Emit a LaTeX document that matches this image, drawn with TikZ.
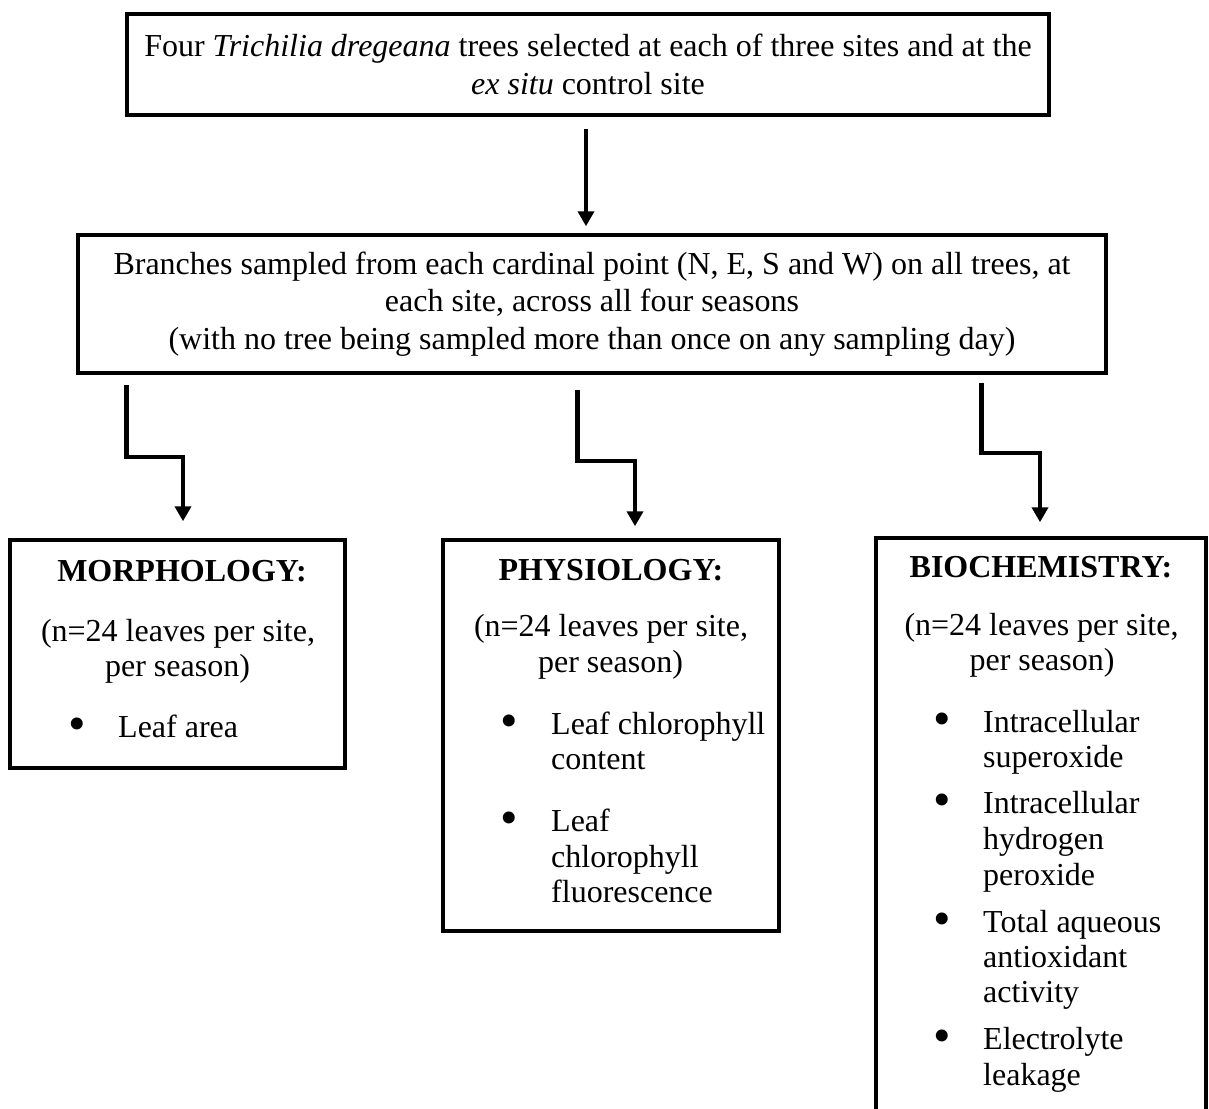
\documentclass[tikz,border=0pt]{standalone}
\usepackage{fontspec}
\setmainfont{Liberation Serif}
\usepackage{tikz}
\usetikzlibrary{arrows.meta,positioning,calc}

\begin{document}
\begin{tikzpicture}[
    x=1pt, y=-1pt,
    font=\fontsize{32}{37.5}\selectfont,
    box/.style={
        draw,
        line width=3.5pt,
        align=center,
        inner sep=0pt
    },
    head/.style={font=\fontsize{32}{37.5}\selectfont\bfseries, anchor=base, inner sep=0pt},
    txt/.style={anchor=base, inner sep=0pt},
    item/.style={anchor=base west, inner sep=0pt},
    dot/.style={font=\fontsize{50}{50}\selectfont, anchor=center, inner sep=0pt},
    line/.style={-{Triangle[width=16pt,length=15pt]}, line width=4.5pt}
]
\useasboundingbox (0,0) rectangle (1209,1108);

% --- Top: tree selection ---
\node[box, minimum width=922pt, minimum height=101pt] (trees) at (588,64.5)
    {Four \textit{Trichilia dregeana} trees selected at each of three sites and at the\\
     \textit{ex situ} control site};

% --- Sampling ---
\node[box, minimum width=1028pt, minimum height=138pt] (branch) at (592,304)
    {Branches sampled from each cardinal point (N, E, S and W) on all trees, at\\
     each site, across all four seasons\\
     (with no tree being sampled more than once on any sampling day)};

% --- Outputs ---
\node[box, minimum width=335pt, minimum height=228pt] (morph) at (177.5,654) {};
\node[box, minimum width=336pt, minimum height=391pt] (phys) at (611,735.5) {};
\node[box, minimum width=330pt, minimum height=600pt] (bio) at (1041,838) {};

% --- Morphology text ---
\node[head] (morphT) at (182,581) {MORPHOLOGY:};
\node[txt] (morphN) at (178,641) {(n=24 leaves per site,};
\node[txt] (morphS) at (177.5,676) {per season)};
\node[dot] (morphB) at (77,729) {\textbullet};
\node[item] (morphI) at (118,737) {Leaf area};

% --- Physiology text ---
\node[head] (physT) at (611,580) {PHYSIOLOGY:};
\node[txt] (physN) at (611,636) {(n=24 leaves per site,};
\node[txt] (physS) at (610.5,672) {per season)};
\foreach \yy [count=\i] in {734,831}
    \node[dot, name=physB\i] at (509,\yy-8) {\textbullet};
\foreach \yy/\t [count=\i] in {734/Leaf chlorophyll, 769/content,
        831/Leaf, 867/chlorophyll, 902/fluorescence}
    \node[item, name=physI\i] at (551,\yy) {\t};

% --- Biochemistry text ---
\node[head] (bioT) at (1041,577) {BIOCHEMISTRY:};
\node[txt] (bioN) at (1041.5,635) {(n=24 leaves per site,};
\node[txt] (bioS) at (1042,670) {per season)};
\foreach \yy [count=\i] in {732,813,932,1049}
    \node[dot, name=bioB\i] at (942,\yy-8) {\textbullet};
\foreach \yy/\t [count=\i] in {732/Intracellular, 767/superoxide,
        813/Intracellular, 849/hydrogen, 885/peroxide,
        932/Total aqueous, 967/antioxidant, 1002/activity,
        1049/Electrolyte, 1085/leakage}
    \node[item, name=bioI\i] at (983,\yy) {\t};

% --- Connections ---
\draw[line] ([xshift=-2pt,yshift=-12pt]trees.south)
    -- ($(trees.south |- branch.north)+(-2,-7)$);

\draw[line] ([xshift=50pt,yshift=-10pt]branch.south west)
    -- ++(0,72) -| ([xshift=5.5pt,yshift=17pt]morph.north);
\draw[line] ([xshift=501pt,yshift=-15pt]branch.south west)
    -- ++(0,71) -| ([xshift=24pt,yshift=12pt]phys.north);
\draw[line] ([xshift=905pt,yshift=-8pt]branch.south west)
    -- ++(0,70) -| ([xshift=-1pt,yshift=14pt]bio.north);

\end{tikzpicture}
\end{document}
